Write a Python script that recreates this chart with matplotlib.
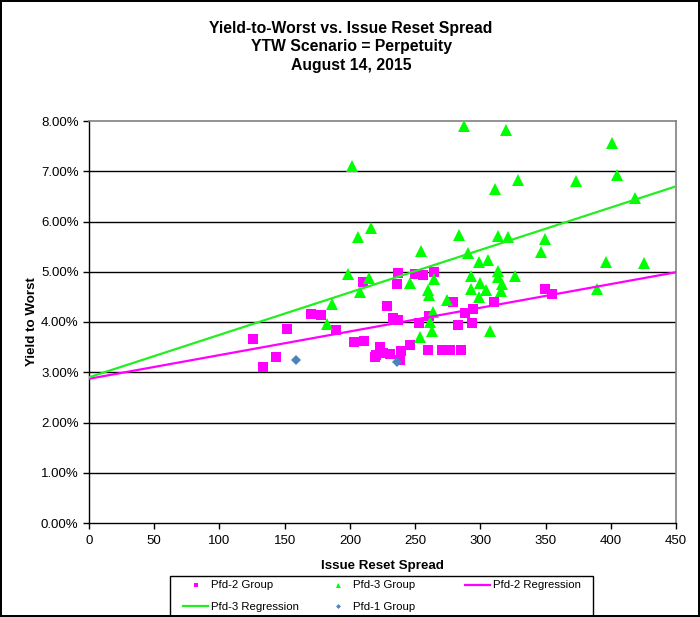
'''
    Yield-to-Worst vs. Issue Reset Spread scatter with regression lines
    (Pfd-2 / Pfd-3 / Pfd-1 groups), values read off the Excel chart.
'''

import numpy as np
import matplotlib
matplotlib.use('Agg')
import matplotlib.pyplot as plt
from matplotlib.patches import Rectangle
from matplotlib.ticker import FuncFormatter

plt.rcParams['font.family'] = ['Liberation Sans', 'DejaVu Sans']

# Pfd-2 Group (magenta squares): issue reset spread (bp), YTW (%)
pfd2_x = [125.9, 133.6, 143.1, 152.0, 170.4, 178.1, 189.7, 203.2, 211.0, 210.3,
          237.1, 249.8, 256.3, 264.7, 236.3, 228.8, 233.3, 236.7, 253.1, 260.3,
          279.4, 310.6, 288.4, 294.0, 283.1, 293.9, 349.8, 355.2, 223.1, 220.4,
          225.6, 231.0, 219.5, 239.0, 238.7, 246.3, 260.1, 270.4, 276.8, 285.2]
pfd2_y = [3.66, 3.10, 3.30, 3.87, 4.15, 4.14, 3.85, 3.60, 3.63, 4.79,
          4.97, 4.95, 4.93, 4.99, 4.76, 4.32, 4.07, 4.04, 3.98, 4.12,
          4.39, 4.39, 4.17, 4.25, 3.94, 3.98, 4.65, 4.55, 3.50, 3.34,
          3.38, 3.36, 3.30, 3.42, 3.25, 3.54, 3.44, 3.44, 3.44, 3.44]

# Pfd-3 Group (green triangles)
pfd3_x = [287.7, 319.7, 401.2, 201.6, 404.5, 311.5, 328.9, 373.6, 418.8, 206.5,
          216.4, 283.9, 313.8, 321.5, 349.8, 254.7, 290.8, 346.7, 299.1, 306.0,
          396.6, 425.7, 198.9, 214.8, 293.0, 313.8, 313.8, 326.8, 246.2, 264.5,
          299.9, 316.6, 207.9, 259.7, 293.0, 304.5, 316.0, 389.7, 260.7, 299.1,
          186.4, 274.5, 263.9, 261.6, 263.2, 254.1, 307.6, 182.6]
pfd3_y = [7.91, 7.83, 7.56, 7.11, 6.92, 6.64, 6.83, 6.80, 6.46, 5.69,
          5.87, 5.74, 5.72, 5.69, 5.66, 5.42, 5.38, 5.39, 5.20, 5.24,
          5.20, 5.18, 4.95, 4.88, 4.92, 5.02, 4.90, 4.91, 4.77, 4.86,
          4.77, 4.75, 4.60, 4.64, 4.66, 4.64, 4.62, 4.66, 4.53, 4.50,
          4.35, 4.43, 4.19, 4.00, 3.82, 3.70, 3.83, 3.97]

# Pfd-1 Group (blue diamonds)
pfd1_x = [158.9, 235.9]
pfd1_y = [3.24, 3.21]

# Regression lines (end points as drawn on the chart)
reg_x = [0, 450]
pfd2_reg_y = [2.87, 4.99]
pfd3_reg_y = [2.90, 6.70]

x_ticks = np.arange(0, 451, 50)
y_ticks = np.arange(0, 8.01, 1.0)

PINK = '#FF00FF'
GREEN = '#00FF00'
BLUE = '#4F81BD'

W, H = 700, 617   # figure size in pixels


def fx(px):
    return px / W


def fy(py):
    # pixel row (from top) -> figure fraction
    return 1 - py / H


def plot_chart(save_as='out.png'):
    fig = plt.figure(figsize=(W / 100, H / 100), dpi=100,
                     edgecolor='black', linewidth=1.5)
    ax = fig.add_axes([fx(89), fy(523), fx(587), 402 / H])

    # grid lines first, underneath everything
    for yv in y_ticks[1:-1]:
        ax.axhline(yv, color='black', lw=1.0, zorder=1)

    sq, = ax.plot(pfd2_x, pfd2_y, 's', color=PINK, ms=7, mew=0,
                  ls='none', zorder=3, label='Pfd-2 Group')
    tri, = ax.plot(pfd3_x, pfd3_y, '^', color=GREEN, ms=8, mew=0,
                   ls='none', zorder=4, label='Pfd-3 Group')
    l2, = ax.plot(reg_x, pfd2_reg_y, '-', color=PINK, lw=1.6, zorder=5,
                  label='Pfd-2 Regression')
    l3, = ax.plot(reg_x, pfd3_reg_y, '-', color='#22EE22', lw=1.6, zorder=5,
                  label='Pfd-3 Regression')
    dia, = ax.plot(pfd1_x, pfd1_y, 'D', color=BLUE, ms=5.5, mew=0,
                   ls='none', zorder=6, label='Pfd-1 Group')

    ax.set_xlim(0, 450)
    ax.set_ylim(0, 8)
    ax.set_xticks(x_ticks)
    ax.set_yticks(y_ticks)
    ax.yaxis.set_major_formatter(FuncFormatter(lambda v, _: '%.2f%%' % v))
    ax.tick_params(axis='both', direction='out', length=4.5, width=1,
                   labelsize=9.5, colors='black', pad=3)
    ax.tick_params(axis='x', pad=4)

    for side in ('top', 'right'):
        ax.spines[side].set_color('#808080')
        ax.spines[side].set_linewidth(1.2)
    for side in ('left', 'bottom'):
        ax.spines[side].set_color('black')
        ax.spines[side].set_linewidth(1.0)

    ax.set_xlabel('Issue Reset Spread', fontsize=9.6, fontweight='bold')
    ax.set_ylabel('Yield to Worst', fontsize=9.6, fontweight='bold')
    ax.xaxis.set_label_coords(0.5, -(560 - 523) / 402)
    ax.yaxis.set_label_coords((38 - 89) / 587, 0.5)

    fig.text(0.5015, fy(47),
             'Yield-to-Worst vs. Issue Reset Spread\n'
             'YTW Scenario = Perpetuity\nAugust 14, 2015',
             ha='center', va='center', fontsize=11.3, fontweight='bold',
             linespacing=1.3)

    # legend: framed box with three columns, entries row-wise as in Excel
    fig.add_artist(Rectangle((fx(170), fy(616)), fx(593 - 170), 40 / H,
                             transform=fig.transFigure, fill=False,
                             edgecolor='black', lw=1.0, zorder=10))
    columns = [([sq, l3], 183), ([tri, dia], 325), ([l2], 465)]
    for handles, x0 in columns:
        fig.legend(handles, [h.get_label() for h in handles],
                   loc='upper left', bbox_to_anchor=(fx(x0), fy(580.5)),
                   fontsize=8.2, markerscale=0.45,
                   handlelength=2.2, handletextpad=0.25,
                   labelspacing=0.97, borderpad=0, borderaxespad=0,
                   frameon=False)

    fig.savefig(save_as, dpi=100, edgecolor=fig.get_edgecolor())


if __name__ == '__main__':
    plot_chart('out.png')
